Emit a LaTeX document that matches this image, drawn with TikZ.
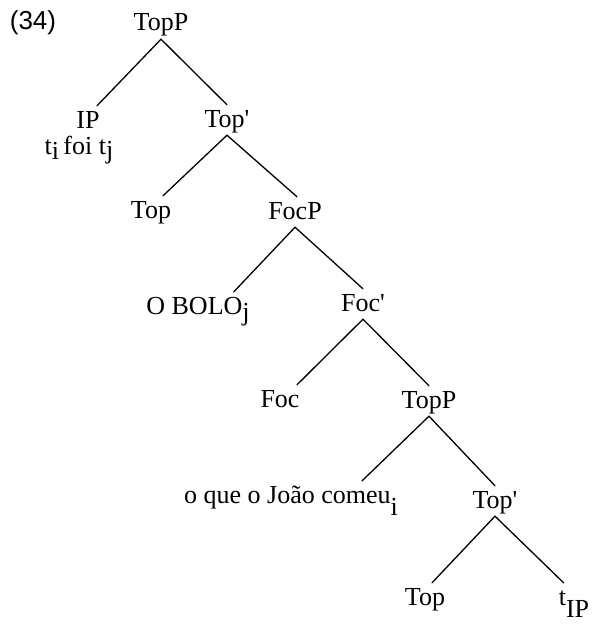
\documentclass[tikz,border=0pt]{standalone}
\usepackage{fontspec}
\setmainfont{Liberation Serif}
\newfontfamily\numfont{Liberation Sans}
% lowered index letters (traces and coindexation)
\newcommand\lowsub[2]{\raisebox{-#1}{#2}}
\begin{document}
\begin{tikzpicture}[x=1pt,y=1pt,
  lbl/.style={anchor=base, inner sep=0pt, font=\fontsize{26}{26}\selectfont},
  cat/.style={lbl, text height=20pt, text depth=6pt, inner ysep=2pt},
  branch/.style={line width=1.3pt, line cap=round}]
\useasboundingbox (0,0) rectangle (594,-626);

% example number
\node[lbl, font=\numfont\fontsize{26}{26}\selectfont] (exnum) at (33,-30) {(34)};

% tree labels
\node[cat] (topP)    at (161,-31)  {TopP};
\node[cat] (ip)      at (88,-128)  {IP};
\node[lbl] (ipwords) at (79,-154)  {t\lowsub{5pt}{i}\,foi t\lowsub{4pt}{j}};
\node[cat] (topbar1) at (227,-127) {Top\textquotesingle};
\node[cat] (top1)    at (151,-218) {Top};
\node[cat] (focP)    at (295,-219) {FocP};
\node[cat] (bolo)    at (198,-314) {O BOLO\lowsub{6pt}{j}};
\node[cat] (focbar)  at (363,-311) {Foc\textquotesingle};
\node[cat] (foc)     at (280,-407) {Foc};
\node[cat] (topP2)   at (429,-408) {TopP};
\node[cat] (oque)    at (291,-503) {o que o João comeu\lowsub{12pt}{i}};
\node[cat] (topbar2) at (495,-508) {Top\textquotesingle};
\node[cat] (top2)    at (425,-605) {Top};
\node[cat] (tip)     at (574,-605) {t\lowsub{12pt}{IP}};

% branches
\draw[branch] (topP.south) -- ([xshift=9pt]ip.north);
\draw[branch] (topP.south) -- (topbar1.north);
\draw[branch] (topbar1.south) -- ([xshift=12pt]top1.north);
\draw[branch] (topbar1.south) -- ([xshift=2pt]focP.north);
\draw[branch] (focP.south) -- ([xshift=-16pt]bolo.north east);
\draw[branch] (focP.south) -- (focbar.north);
\draw[branch] (focbar.south) -- ([xshift=17pt]foc.north);
\draw[branch] (focbar.south) -- (topP2.north);
\draw[branch] (topP2.south) -- ([xshift=-36pt]oque.north east);
\draw[branch] (topP2.south) -- (topbar2.north);
\draw[branch] (topbar2.south) -- ([xshift=7pt]top2.north);
\draw[branch] (topbar2.south) -- ([xshift=5pt]tip.north west);
\end{tikzpicture}
\end{document}
